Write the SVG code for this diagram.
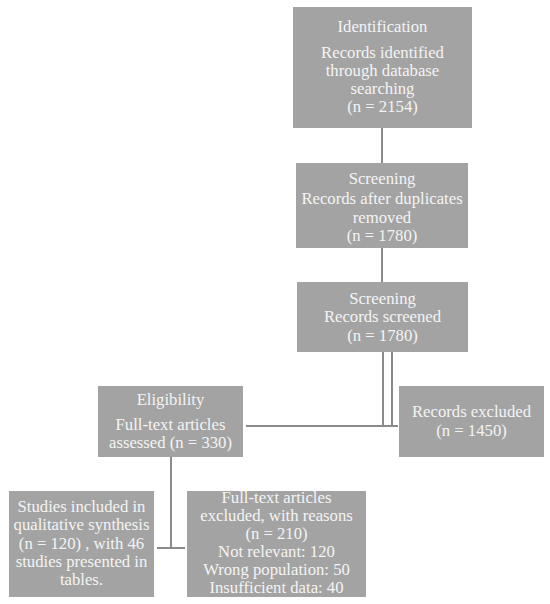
<svg xmlns="http://www.w3.org/2000/svg" width="550" height="604" viewBox="0 0 550 604">
<style>
.box{fill:#a3a3a3;}
.t{font-family:"Liberation Serif","DejaVu Serif",serif;font-size:16.7px;fill:#f4f4f4;text-anchor:middle;}
.c{stroke:#8a8a8a;stroke-width:2;fill:none;}
</style>
<rect width="550" height="604" fill="#ffffff"/>
<g id="connectors">
<line class="c" x1="382" y1="128" x2="382" y2="163"/>
<line class="c" x1="382" y1="248" x2="382" y2="282"/>
<line class="c" x1="383" y1="352" x2="383" y2="426"/>
<line class="c" x1="392" y1="352" x2="392" y2="426"/>
<line class="c" x1="246" y1="426" x2="398" y2="426"/>
<line class="c" x1="171" y1="457" x2="171" y2="548"/>
<line class="c" x1="157" y1="548" x2="185" y2="548"/>
</g>
<g id="identification">
<rect class="box" x="293" y="7" width="179" height="121"/>
<text class="t" x="382.5" y="32">Identification</text>
<text class="t" x="382.5" y="58">Records identified</text>
<text class="t" x="382.5" y="76">through database</text>
<text class="t" x="382.5" y="94">searching</text>
<text class="t" x="382.5" y="112">(n = 2154)</text>
</g>
<g id="screening1">
<rect class="box" x="296" y="163" width="172" height="85"/>
<text class="t" x="382" y="184">Screening</text>
<text class="t" x="382" y="204">Records after duplicates</text>
<text class="t" x="382" y="223">removed</text>
<text class="t" x="382" y="241">(n = 1780)</text>
</g>
<g id="screening2">
<rect class="box" x="297" y="282" width="171" height="70"/>
<text class="t" x="382.5" y="304">Screening</text>
<text class="t" x="382.5" y="322">Records screened</text>
<text class="t" x="382.5" y="341">(n = 1780)</text>
</g>
<g id="eligibility">
<rect class="box" x="98" y="386" width="145" height="71"/>
<text class="t" x="170.5" y="405">Eligibility</text>
<text class="t" x="170.5" y="430">Full-text articles</text>
<text class="t" x="170.5" y="448">assessed (n = 330)</text>
</g>
<g id="excluded">
<rect class="box" x="399" y="386" width="145" height="71"/>
<text class="t" x="471.5" y="417">Records excluded</text>
<text class="t" x="471.5" y="436">(n = 1450)</text>
</g>
<g id="included">
<rect class="box" x="9" y="491" width="145" height="106"/>
<text class="t" x="81.5" y="512">Studies included in</text>
<text class="t" x="81.5" y="530">qualitative synthesis</text>
<text class="t" x="81.5" y="549">(n = 120) , with 46</text>
<text class="t" x="81.5" y="567">studies presented in</text>
<text class="t" x="81.5" y="585">tables.</text>
</g>
<g id="fulltext-excluded">
<rect class="box" x="187" y="491" width="179" height="106"/>
<text class="t" x="276.5" y="503">Full-text articles</text>
<text class="t" x="276.5" y="521">excluded, with reasons</text>
<text class="t" x="276.5" y="539">(n = 210)</text>
<text class="t" x="276.5" y="557">Not relevant: 120</text>
<text class="t" x="276.5" y="575">Wrong population: 50</text>
<text class="t" x="276.5" y="593">Insufficient data: 40</text>
</g>
</svg>
